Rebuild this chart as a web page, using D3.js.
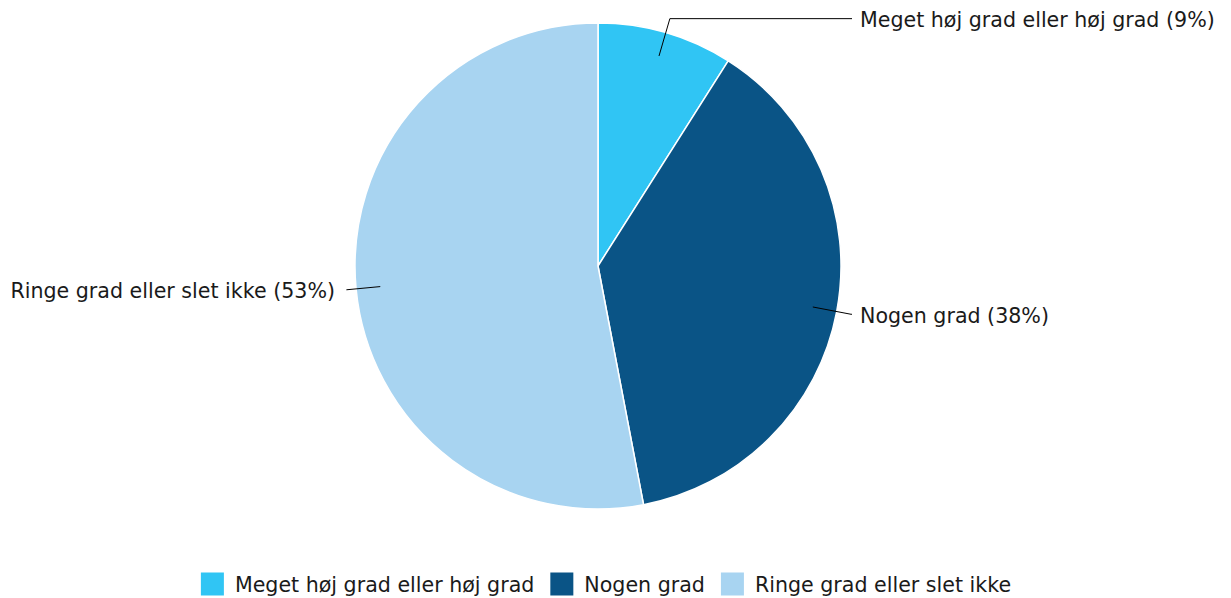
<!DOCTYPE html>
<html>
<head>
<meta charset="utf-8">
<script src="https://cdn.jsdelivr.net/npm/d3@7"></script>
<style>
  html, body { margin: 0; padding: 0; background: #ffffff; }
  svg { display: block; }
</style>
</head>
<body>
<svg id="chart" width="1231" height="598"></svg>
<script>
// Survey answer categories and their shares (%)
const categories = ["Meget høj grad eller høj grad", "Nogen grad", "Ringe grad eller slet ikke"];
const shares = [9, 38, 53];
const colors = ["#30c5f4", "#0a5486", "#a8d4f1"];

const svg = d3.select("#chart");
const W = 1231, H = 598;
const cx = 598, cy = 266, r = 243;
const fontFamily = "'DejaVu Sans', Verdana, sans-serif";
const fontSize = 20.6;

const data = categories.map((c, i) => ({ name: c, value: shares[i], color: colors[i] }));

const pie = d3.pie().value(d => d.value).sort(null);
const arcs = pie(data);
const arc = d3.arc().innerRadius(0).outerRadius(r);

const g = svg.append("g").attr("transform", `translate(${cx},${cy})`);

g.selectAll("path.slice")
  .data(arcs)
  .join("path")
  .attr("class", "slice")
  .attr("d", arc)
  .attr("fill", d => d.data.color)
  .attr("stroke", "#ffffff")
  .attr("stroke-width", 1.5)
  .attr("stroke-linejoin", "round");

// Data labels with connectors: radial segment, then a horizontal run to the text column
const rightX = 254, leftX = -251;

arcs.forEach(a => {
  const mid = (a.startAngle + a.endAngle) / 2;
  const right = Math.sin(mid) >= 0;
  const k = right ? 1.06 : 1.04;
  const p0 = [Math.sin(mid) * r * 0.9, -Math.cos(mid) * r * 0.9];
  const p1 = [Math.sin(mid) * r * k, -Math.cos(mid) * r * k];
  const pts = [p0, p1];
  if (right && p1[0] < rightX) pts.push([rightX, p1[1]]);
  g.append("path")
    .attr("d", d3.line()(pts))
    .attr("fill", "none")
    .attr("stroke", "#000000")
    .attr("stroke-width", 1);
  g.append("text")
    .attr("x", right ? rightX + 8 : leftX - 12)
    .attr("y", p1[1])
    .attr("dy", "0.42em")
    .attr("text-anchor", right ? "start" : "end")
    .attr("font-family", fontFamily)
    .attr("font-size", fontSize)
    .attr("fill", "#1a1a1a")
    .text(`${a.data.name} (${a.data.value}%)`);
});

// Legend beneath the pie
const legend = svg.append("g").attr("class", "legend");
const sw = 23, gapAfterSwatch = 11, itemGap = 16, legendY = 584, legendCenter = 606;
const items = legend.selectAll("g.item").data(data).join("g").attr("class", "item");
items.append("rect")
  .attr("width", sw).attr("height", sw)
  .attr("y", legendY - sw / 2)
  .attr("fill", d => d.color);
items.append("text")
  .attr("x", sw + gapAfterSwatch)
  .attr("y", legendY)
  .attr("dy", "0.38em")
  .attr("font-family", fontFamily)
  .attr("font-size", fontSize)
  .attr("fill", "#1a1a1a")
  .text(d => d.name);

const widths = [];
items.each(function () {
  widths.push(d3.select(this).select("text").node().getComputedTextLength() + sw + gapAfterSwatch);
});
const total = d3.sum(widths) + itemGap * (widths.length - 1);
let x0 = legendCenter - total / 2;
items.attr("transform", (d, i) => {
  const t = `translate(${x0},0)`;
  x0 += widths[i] + itemGap;
  return t;
});
</script>
</body>
</html>
